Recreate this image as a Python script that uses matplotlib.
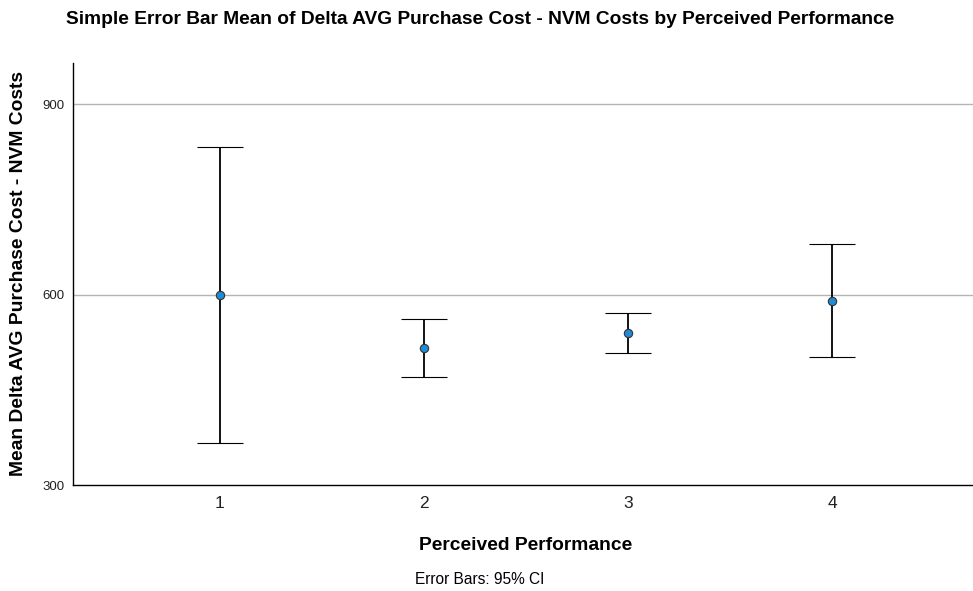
import matplotlib
matplotlib.use("Agg")
import matplotlib.pyplot as plt

categories = ["1", "2", "3", "4"]
means = [600, 516, 540, 590]
ci_lower = [367, 471, 508, 502]
ci_upper = [832, 561, 571, 679]
y_ticks = [300, 600, 900]

plt.rcParams['font.family'] = ['Liberation Sans', 'DejaVu Sans']

fig = plt.figure(figsize=(9.73, 5.91), dpi=100)
ax = fig.add_axes([0.0747, 0.1789, 0.9253, 0.7150])

x = list(range(1, len(categories) + 1))
yerr = [[m - l for m, l in zip(means, ci_lower)], [u - m for m, u in zip(means, ci_upper)]]

ax.set_ylim(300, 965)
ax.set_xlim(0.28, 4.69)
ax.set_yticks(y_ticks)
ax.set_yticklabels([str(t) for t in y_ticks], fontsize=9.5, color='#222222')
ax.set_xticks(x)
ax.set_xticklabels(categories, fontsize=12.5, color='#222222')
ax.tick_params(axis='x', length=0, pad=8)
ax.tick_params(axis='y', length=0, pad=6)
for yv in y_ticks[1:]:
    ax.axhline(yv, color='#b4b4b4', lw=1.0, zorder=0)

ax.errorbar(x, means, yerr=yerr, fmt='o', color='black', ecolor='black',
            elinewidth=1.3, capsize=16.5, capthick=1.3,
            markerfacecolor='#1f8ad6', markeredgecolor='#333333',
            markersize=6, markeredgewidth=0.8, zorder=3)

for s in ['top', 'right']:
    ax.spines[s].set_visible(False)
ax.spines['left'].set_color('black')
ax.spines['bottom'].set_color('black')
ax.spines['left'].set_linewidth(1.0)
ax.spines['bottom'].set_linewidth(1.0)

fig.text(480/973, 1 - 20/591, "Simple Error Bar Mean of Delta AVG Purchase Cost - NVM Costs by Perceived Performance",
         ha='center', va='center', fontsize=13.8, fontweight='bold')
fig.text(526/973, 1 - 545/591, "Perceived Performance", ha='center', va='center',
         fontsize=13.9, fontweight='bold')
fig.text(480/973, 1 - 580/591, "Error Bars: 95% CI", ha='center', va='center', fontsize=11.2)
fig.text(19/973, 1 - 274/591, "Mean Delta AVG Purchase Cost - NVM Costs", ha='center', va='center',
         rotation=90, fontsize=13.9, fontweight='bold')

fig.savefig("out.png", dpi=100)
